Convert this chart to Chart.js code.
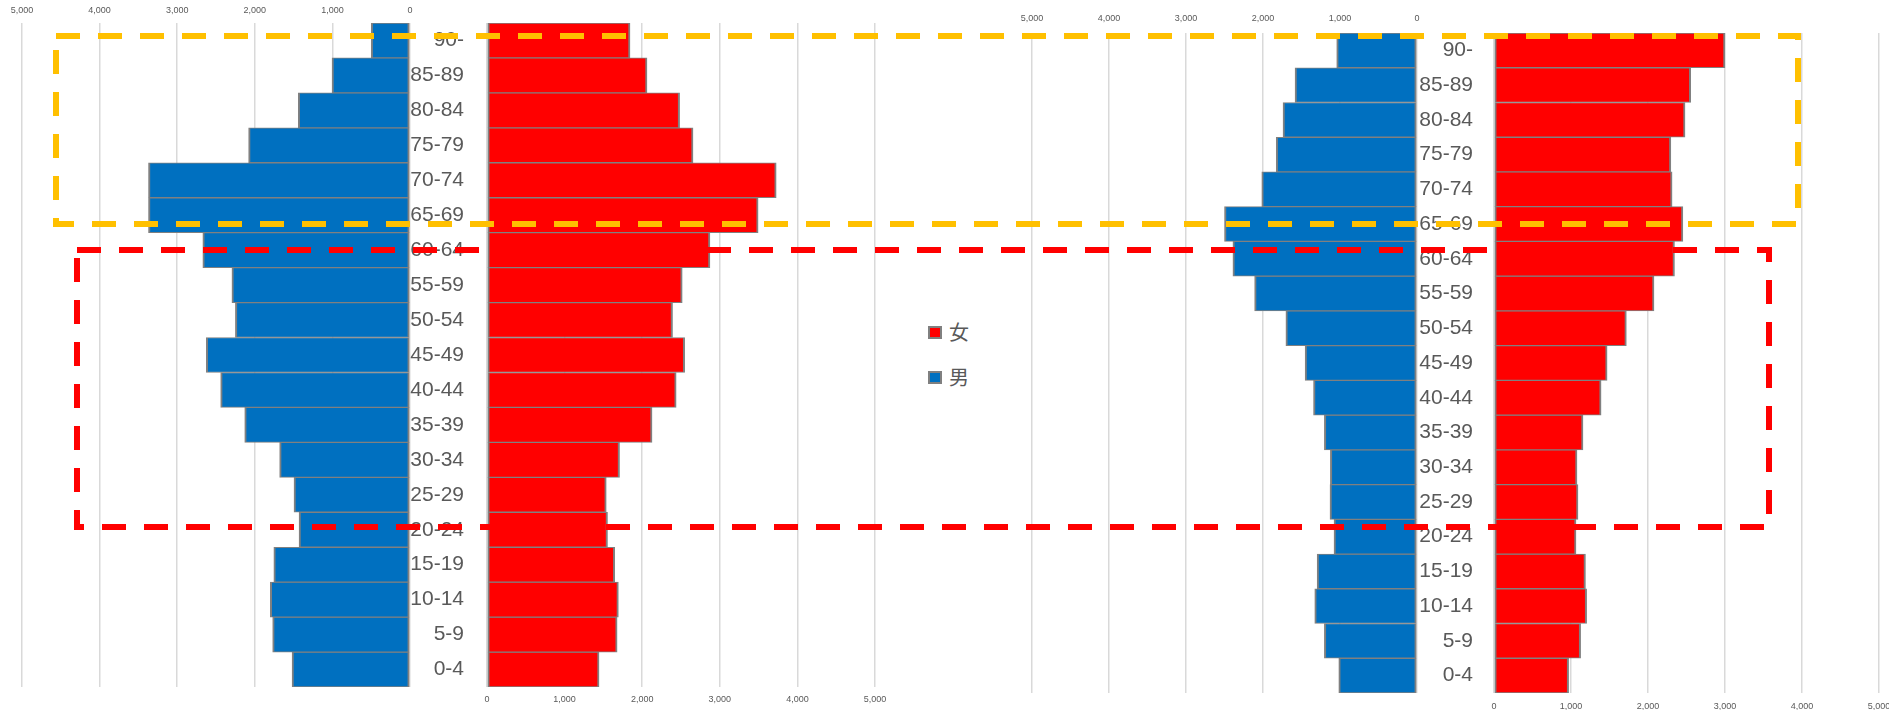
<!DOCTYPE html>
<html>
<head>
<meta charset="utf-8">
<script src="https://cdn.jsdelivr.net/npm/chart.js@4.4.1/dist/chart.umd.min.js"></script>
<style>
  html, body { margin: 0; padding: 0; background: #fff; width: 1889px; height: 710px; overflow: hidden; }
  canvas { position: absolute; top: 0; }
  #overlay { position: absolute; left: 0; top: 0; pointer-events: none; }
  .key { position: absolute; width: 14px; height: 13px; box-sizing: border-box; border: 2px solid #808080; }
  .keytext { position: absolute; font-family: "Noto Sans CJK JP", "Noto Sans", sans-serif; font-size: 20px; line-height: 20px; color: #595959; }
</style>
</head>
<body>
<canvas id="male-left" width="430" height="710" style="left:0px"></canvas>
<canvas id="female-left" width="500" height="710" style="left:400px"></canvas>
<canvas id="male-right" width="437" height="710" style="left:1000px"></canvas>
<canvas id="female-right" width="510" height="710" style="left:1410px"></canvas>

<!-- legend -->
<div class="key" style="left:928px; top:326px; background:#FF0000"></div>
<div class="keytext" style="left:949px; top:322px">女</div>
<div class="key" style="left:928px; top:371px; background:#0070C0"></div>
<div class="keytext" style="left:949px; top:367px">男</div>

<!-- dashed frames drawn on top -->
<svg id="overlay" width="1889" height="710">
  <rect x="56" y="36" width="1742" height="188" fill="none" stroke="#FFC000" stroke-width="6" stroke-dasharray="24 18"/>
  <rect x="77" y="250" width="1692" height="277" fill="none" stroke="#FF0000" stroke-width="6" stroke-dasharray="24 18"/>
</svg>

<script>
// Altersgruppen, von unten nach oben
var ageGroups = ['0-4', '5-9', '10-14', '15-19', '20-24', '25-29', '30-34', '35-39', '40-44', '45-49',
                 '50-54', '55-59', '60-64', '65-69', '70-74', '75-79', '80-84', '85-89', '90-'];

// linke Pyramide
var maleLeft   = [1520, 1770, 1800, 1755, 1430, 1495, 1680, 2130, 2440, 2625,
                  2250, 2295, 2670, 3370, 3370, 2080, 1440, 1005, 500];
var femaleLeft = [1444, 1677, 1693, 1646, 1553, 1537, 1708, 2127, 2438, 2547,
                  2391, 2516, 2873, 3494, 3727, 2655, 2482, 2062, 1843];

// rechte Pyramide
var maleRight   = [1016, 1203, 1328, 1297, 1078, 1130, 1125, 1203, 1344, 1453,
                   1703, 2109, 2391, 2500, 2016, 1828, 1740, 1584, 1043];
var femaleRight = [969, 1125, 1203, 1188, 1065, 1091, 1078, 1156, 1391, 1469,
                   1719, 2078, 2344, 2453, 2313, 2297, 2481, 2555, 3000];

// Achse
var axisMin = 0;
var axisMax = 5000;
var axisStep = 1000;

var BLUE = '#0070C0';
var RED = '#FF0000';
var EDGE = '#808080';
var GRID = '#D9D9D9';
var TEXT = '#595959';

Chart.defaults.font.family = '"Liberation Sans", Arial, sans-serif';
Chart.defaults.color = TEXT;

function fmt(v) {
    return Number(v).toLocaleString('en-US');
}

function barSet(label, values, color) {
    return {
        label: label,
        data: values,
        backgroundColor: color,
        borderColor: EDGE,
        borderWidth: { top: 1, bottom: 1, left: 2, right: 2 },
        borderSkipped: false,
        barPercentage: 1,
        categoryPercentage: 1
    };
}

// Männer: Achse oben, gespiegelt
function maleChart(id, values, left, top, bottom, labelPad) {
    return new Chart(document.getElementById(id), {
        type: 'bar',
        data: { labels: ageGroups, datasets: [barSet('男', values, BLUE)] },
        options: {
            indexAxis: 'y',
            responsive: false,
            animation: false,
            layout: { padding: { left: left, right: 20, top: 0, bottom: 710 - bottom } },
            plugins: { legend: { display: false }, tooltip: { enabled: false } },
            scales: {
                x: {
                    position: 'top',
                    reverse: true,
                    min: axisMin, max: axisMax,
                    ticks: { stepSize: axisStep, padding: labelPad, callback: fmt, font: { size: 9 } },
                    grid: { color: GRID, lineWidth: 1.5, drawTicks: false },
                    border: { display: false },
                    afterFit: function (s) { s.height = top; s.paddingLeft = 0; s.paddingRight = 0; }
                },
                y: { display: false, reverse: true }
            }
        }
    });
}

// Frauen: Achse unten, Altersgruppen links daneben
function femaleChart(id, values, axisWidth, right, top, bottom, labelPad, catPad) {
    return new Chart(document.getElementById(id), {
        type: 'bar',
        data: { labels: ageGroups, datasets: [barSet('女', values, RED)] },
        options: {
            indexAxis: 'y',
            responsive: false,
            animation: false,
            layout: { padding: { left: 0, right: right, top: top, bottom: 0 } },
            plugins: { legend: { display: false }, tooltip: { enabled: false } },
            scales: {
                x: {
                    position: 'bottom',
                    min: axisMin, max: axisMax,
                    ticks: { stepSize: axisStep, padding: labelPad, callback: fmt, font: { size: 9 } },
                    grid: { color: GRID, lineWidth: 1.5, drawTicks: false },
                    border: { display: false },
                    afterFit: function (s) { s.height = 710 - bottom; s.paddingLeft = 0; s.paddingRight = 0; }
                },
                y: {
                    position: 'left',
                    reverse: true,
                    ticks: { autoSkip: false, padding: catPad, font: { size: 21 }, color: TEXT },
                    grid: { display: false, drawTicks: false },
                    border: { display: false },
                    afterFit: function (s) { s.width = axisWidth; s.paddingTop = 0; s.paddingBottom = 0; }
                }
            }
        }
    });
}

maleChart('male-left', maleLeft, 22, 23, 687, 7);
femaleChart('female-left', femaleLeft, 87, 25, 23, 687, 7, 23);
maleChart('male-right', maleRight, 32, 33, 693, 9);
femaleChart('female-right', femaleRight, 84, 41, 33, 693, 8, 21);
</script>
</body>
</html>
